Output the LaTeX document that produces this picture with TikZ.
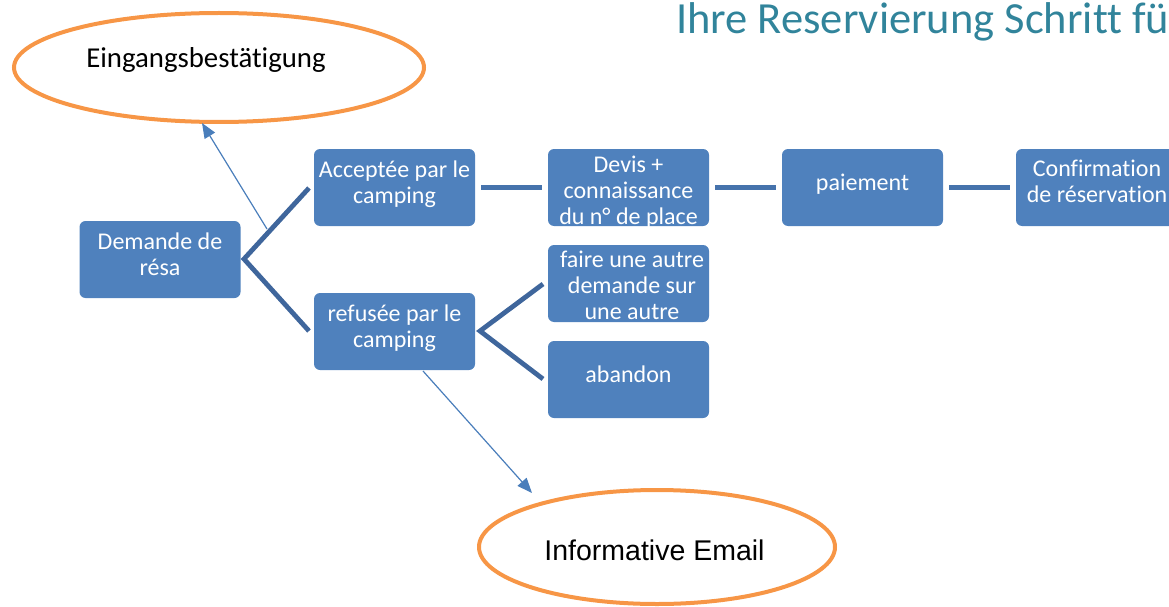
\documentclass[tikz,border=0pt]{standalone}
\usepackage{fontspec}
\setmainfont{Carlito}[Ligatures=NoCommon]
\newfontfamily\arialfont{Liberation Sans}
\usetikzlibrary{shapes.geometric,arrows.meta}
\definecolor{boxblue}{HTML}{4F81BD}
\definecolor{branchblue}{HTML}{3F669C}
\definecolor{chainblue}{HTML}{4673AC}
\definecolor{arrowblue}{HTML}{4A7EBB}
\definecolor{ovalorange}{HTML}{F79646}
\definecolor{titleteal}{HTML}{31849B}
\newcommand\mylines[1]{\begin{tabular}[t]{@{}c@{}}#1\end{tabular}}
\begin{document}
\begin{tikzpicture}[x=1pt,y=-1pt,
  stepbox/.style={fill=boxblue, draw=none, rounded corners=6pt, minimum width=161pt, minimum height=77pt, inner sep=0pt},
  boxtext/.style={text=white, font=\fontsize{24}{26}\selectfont, inner sep=0pt, anchor=base},
  oval/.style={ellipse, draw=ovalorange, line width=4pt, inner sep=0pt},
  branch/.style={draw=branchblue, line width=4.8pt},
  chain/.style={draw=chainblue, line width=5pt, shorten <=6pt, shorten >=6pt},
  thinarrow/.style={draw=arrowblue, line width=1.2pt, -{Triangle[length=15pt,width=12pt]}}
]
\useasboundingbox (0,0) rectangle (1169,607);

% title
\node[anchor=base west, inner sep=0pt, text=titleteal, font=\fontsize{44.5}{48}\selectfont] (title) at (676,34) {Ihre Reservierung Schritt für};

% ovals
\node[oval, minimum width=410pt, minimum height=109pt] (eing) at (219,67.5) {};
\node[anchor=base, inner sep=0pt, font=\fontsize{28.8}{32}\selectfont] (eingtext) at (206,68) {Eingangsbestätigung};
\node[oval, minimum width=356pt, minimum height=114pt] (mail) at (657,547) {};
\node[anchor=base, inner sep=0pt, font=\arialfont\fontsize{28.5}{32}\selectfont] (mailtext) at (654.5,560) {Informative Email};

% boxes
\node[stepbox] (dem) at (160,259.5) {};
\node[stepbox] (acc) at (394.5,187.5) {};
\node[stepbox] (ref) at (394.5,331.5) {};
\node[stepbox] (dev) at (628.5,187.5) {};
\node[stepbox] (pay) at (862.5,187.5) {};
\node[stepbox] (conf) at (1096.5,187.5) {};
\node[stepbox] (other) at (628.5,283.5) {};
\node[stepbox] (aband) at (628.5,379.5) {};

% box texts
\node[boxtext] (demt) at (160,249) {\mylines{Demande de\\résa}};
\node[boxtext] (acct) at (394.5,177) {\mylines{Acceptée par le\\camping}};
\node[boxtext] (reft) at (394.5,321) {\mylines{refusée par le\\camping}};
\begin{scope}
  \clip[rounded corners=6pt] (dev.south west) rectangle (dev.north east);
  \node[boxtext] (devt) at (628.5,172) {\mylines{Devis +\\connaissance\\du n° de place}};
\end{scope}
\node[boxtext] (payt) at (862.5,190) {paiement};
\node[boxtext] (conft) at (1097,176) {\mylines{Confirmation\\de réservation}};
\node[boxtext] (othert) at (632,267) {\mylines{faire une autre\\demande sur\\une autre}};
\node[boxtext] (abandt) at (628.5,382) {abandon};

% branches
\coordinate (b1) at (244,259);
\coordinate (b1up) at (309,188);
\coordinate (b1dn) at (309,331);
\draw[branch] (b1up) -- (b1) -- (b1dn);
\coordinate (b2) at (480,331);
\coordinate (b2up) at (543,284);
\coordinate (b2dn) at (543,379);
\draw[branch] (b2up) -- (b2) -- (b2dn);

% chain
\draw[chain] (acc.east) -- (dev.west);
\draw[chain] (dev.east) -- (pay.west);
\draw[chain] (pay.east) -- (conf.west);

% thin arrows
\coordinate (a1s) at (267,229);
\coordinate (a1e) at (202,123);
\draw[thinarrow] (a1s) -- (a1e);
\coordinate (a2s) at (423,371);
\coordinate (a2e) at (532,493);
\draw[thinarrow] (a2s) -- (a2e);
\end{tikzpicture}
\end{document}
